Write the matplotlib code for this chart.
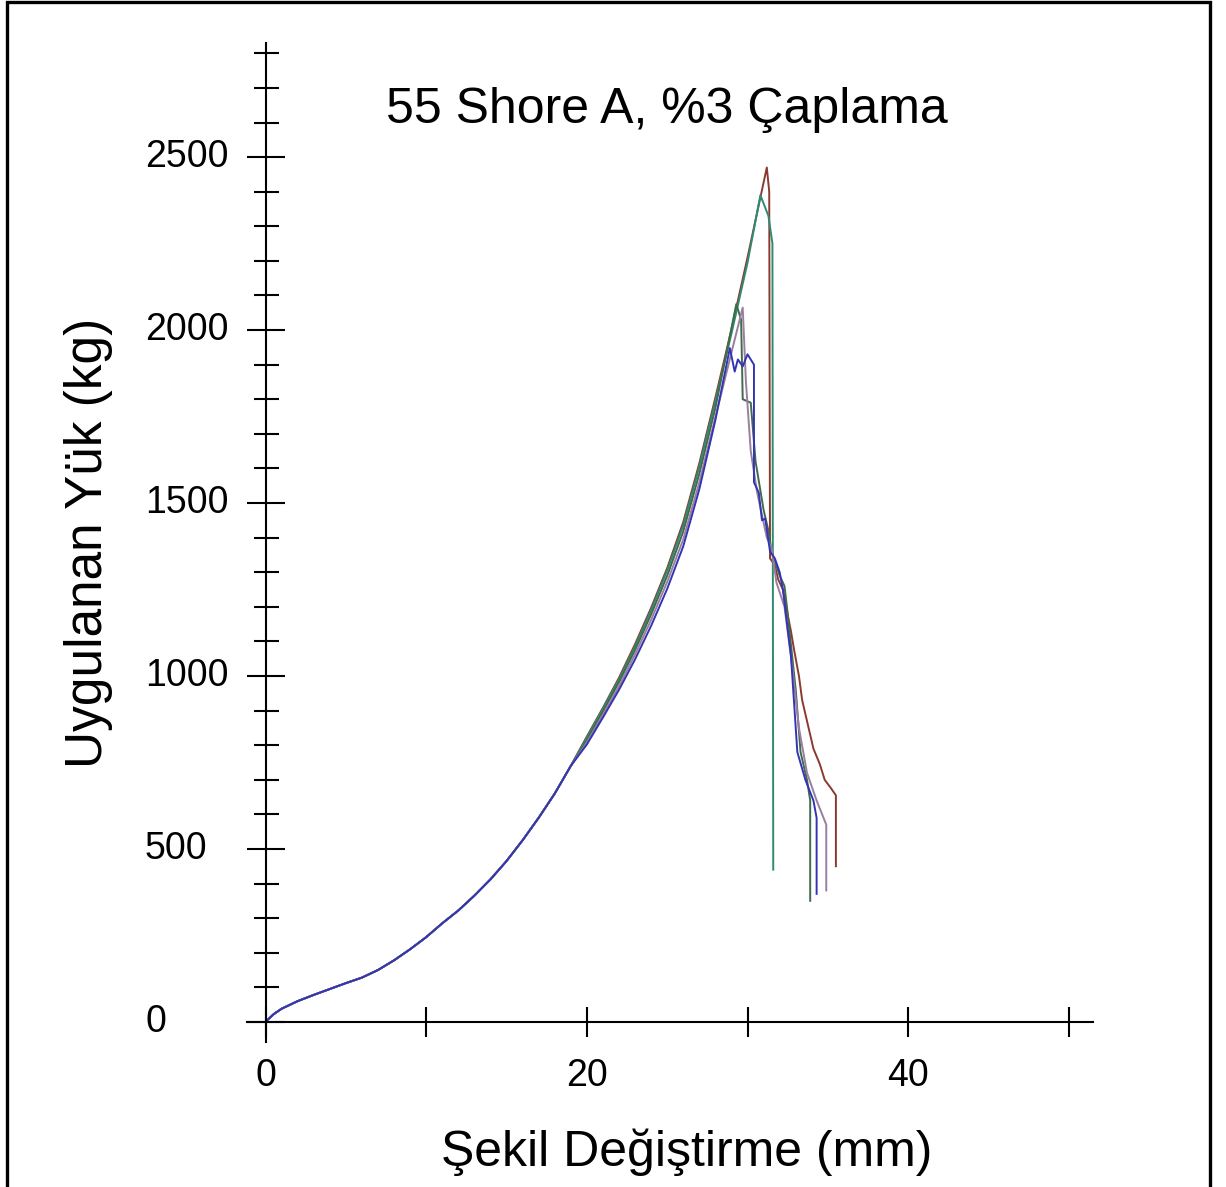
import matplotlib
matplotlib.use('Agg')
import matplotlib.pyplot as plt
from matplotlib.patches import Rectangle

plt.rcParams['font.family'] = ['Liberation Sans', 'DejaVu Sans']

# shared toe region of all load curves (mm, kg)
toe_x = [0, 0.5, 1, 2, 3, 4, 5, 6, 7, 8, 9, 10, 11, 12, 13, 14, 15, 16, 17, 18, 19]
toe_y = [0, 22, 38, 60, 78, 95, 112, 128, 150, 178, 210, 245, 285, 322, 365, 412, 465, 525, 590, 660, 740]

# upper part + failure of each specimen
brown_x = [20, 21, 22, 23, 24, 25, 26, 27, 28, 29, 30, 31.2, 31.35, 31.4, 31.7, 31.9, 32.2, 32.4, 32.7, 32.9,
           33.2, 33.4, 33.8, 34.1, 34.5, 34.8, 35.2, 35.5, 35.5]
brown_y = [825, 908, 995, 1092, 1197, 1312, 1445, 1615, 1805, 2002, 2210, 2470, 2400, 1340, 1320, 1280, 1250,
           1200, 1130, 1075, 1000, 930, 850, 790, 745, 700, 675, 655, 450]

teal_x = [20, 21, 22, 23, 24, 25, 26, 27, 28, 29, 30, 30.8, 31.3, 31.55, 31.6]
teal_y = [822, 905, 990, 1085, 1190, 1305, 1435, 1605, 1795, 1990, 2195, 2390, 2330, 2250, 440]

green_x = [20, 21, 22, 23, 24, 25, 26, 27, 28, 29.3, 29.6, 29.7, 30.2, 30.5, 31.0, 31.3, 31.5, 32.0, 32.3,
           32.5, 33.0, 33.3, 33.7, 33.9, 33.9]
green_y = [815, 897, 982, 1075, 1178, 1290, 1418, 1585, 1775, 2075, 2030, 1800, 1790, 1620, 1480, 1420, 1360,
           1290, 1260, 1180, 960, 780, 700, 640, 350]

mauve_x = [20, 21, 22, 23, 24, 25, 26, 27, 28, 29, 29.7, 29.9, 30.2, 30.6, 31.2, 31.5, 31.8, 32.3, 32.8, 33.2,
           33.7, 34.3, 34.9, 34.9]
mauve_y = [808, 888, 970, 1062, 1162, 1272, 1395, 1560, 1748, 1935, 2065, 1850, 1650, 1530, 1400, 1370, 1270,
           1200, 1020, 850, 720, 640, 570, 380]

blue_x = [20, 21, 22, 23, 24, 25, 26, 27, 28, 28.9, 29.2, 29.4, 29.7, 30.0, 30.4, 30.4, 30.7, 30.9, 31.1, 31.4,
          31.7, 32.0, 32.2, 32.7, 33.1, 33.6, 34.1, 34.3, 34.3]
blue_y = [802, 880, 960, 1048, 1145, 1252, 1375, 1540, 1740, 1948, 1880, 1915, 1895, 1930, 1900, 1560, 1530,
          1450, 1455, 1360, 1340, 1300, 1250, 1060, 780, 700, 640, 590, 370]

series = [
    (brown_x, brown_y, '#8b3a2f'),
    (teal_x, teal_y, '#2e8b72'),
    (green_x, green_y, '#3f6b4c'),
    (mauve_x, mauve_y, '#9a7fa0'),
    (blue_x, blue_y, '#3434b4'),
]

y_major = [0, 500, 1000, 1500, 2000, 2500]
x_labels = [0, 20, 40]

fig = plt.figure(figsize=(12.26, 11.87), dpi=100)
ax = fig.add_axes([0.2015, 0.1222, 0.690, 0.8416])

for xs, ys, c in series:
    ax.plot(toe_x + xs, toe_y + ys, color=c, lw=1.4)

ax.set_xlim(-1.15, 51.5)
ax.set_ylim(-58, 2830)

for s in ['top', 'right']:
    ax.spines[s].set_visible(False)
ax.spines['left'].set_position(('data', 0))
ax.spines['bottom'].set_position(('data', 0))
for s in ['left', 'bottom']:
    ax.spines[s].set_linewidth(1.5)

ax.set_xticks(range(0, 51, 10))
ax.set_yticks(y_major)
ax.set_yticks(range(0, 2801, 100), minor=True)
ax.tick_params(axis='x', which='major', direction='inout', length=21, width=1.5, labelbottom=False)
ax.tick_params(axis='y', which='major', direction='inout', length=27, width=1.5, labelleft=False)
ax.tick_params(axis='y', which='minor', direction='inout', length=18, width=1.5)

for v in y_major:
    ax.text(-0.1206, v, str(v), transform=ax.get_yaxis_transform(),
            ha='left', va='center', fontsize=27)
for v in x_labels:
    ax.text(v, -155, str(v), ha='center', va='center', fontsize=27, clip_on=False)

fig.text(0.544, 0.907, '55 Shore A, %3 Çaplama', ha='center', va='center', fontsize=36)
fig.text(0.560, 0.0295, 'Şekil Değiştirme (mm)', ha='center', va='center', fontsize=36)
fig.text(0.0718, 0.543, 'Uygulanan Yük (kg)', ha='center', va='center', fontsize=37, rotation=90)

# picture frame (no bottom edge visible)
fig.add_artist(Rectangle((7 / 1226, -0.05), (1210 - 7) / 1226, 1.05 - 2 / 1187,
                         transform=fig.transFigure, fill=False, lw=2.4, ec='black'))

fig.savefig('out.png', dpi=100)
